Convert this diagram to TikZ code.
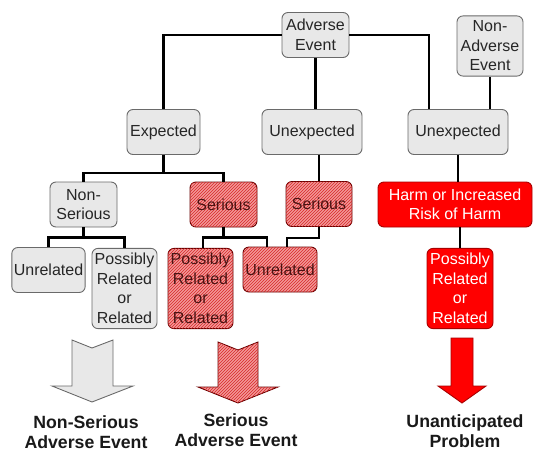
\documentclass[tikz,border=0pt]{standalone}
\usepackage{fontspec}
\setmainfont{Liberation Sans}
\usepackage{xcolor}
\usepackage{tikz}
\usetikzlibrary{patterns}

\definecolor{boxgrey}{HTML}{E8E8E8}
\definecolor{edgegrey}{HTML}{6A6A6A}
\definecolor{hatchpink}{HTML}{F39898}
\definecolor{hatchred}{HTML}{D82828}
\definecolor{hatchtext}{HTML}{4A1212}
\definecolor{darkred}{HTML}{A80000}

\begin{document}
\begin{tikzpicture}[x=1pt,y=-1pt,
        box/.style={draw=edgegrey, line width=0.9pt, rounded corners=6pt, align=center,
            inner xsep=2pt, inner ysep=5pt, minimum height=45pt,
            font=\fontsize{16}{19.5}\selectfont, text=black!85},
        greybox/.style={box, fill=boxgrey},
        hatchbox/.style={box, draw=darkred!60!black, fill=hatchpink, text=hatchtext,
            postaction={pattern=north east lines, pattern color=hatchred}},
        redbox/.style={box, draw=darkred, fill=red, text=white},
        link/.style={line width=2.6pt, black},
        result/.style={align=center, font=\fontsize{17.7}{20}\selectfont\bfseries, text=black!90}]
        \useasboundingbox (0,0) rectangle (536,451);

        % top row
        \node[greybox, minimum width=67pt] (AE) at (315.5,35) {Adverse\\Event};
        \node[greybox, minimum width=66pt] (NAE) at (490,46) {Non-\\Adverse\\Event};

        % expectedness
        \node[greybox, minimum width=73pt] (Exp) at (163.5,132) {Expected};
        \node[greybox, minimum width=100pt] (Unexp_2) at (312,132) {Unexpected};
        \node[greybox, minimum width=100pt] (Unexp_3) at (458,132) {Unexpected};

        % seriousness
        \node[greybox, minimum width=67pt] (NS) at (83.5,204.5) {Non-\\Serious};
        \node[hatchbox, minimum width=67pt] (Ser_1) at (223.5,204.5) {Serious};
        \node[hatchbox, minimum width=66pt] (Ser_2) at (319,204) {Serious};
        \node[redbox, minimum width=154pt] (Harm) at (455,204.5) {Harm or Increased\\Risk of Harm};

        % relatedness
        \node[greybox, minimum width=73pt] (Unrel_1) at (48.5,270) {Unrelated};
        \node[greybox, minimum width=65pt] (Pos_1) at (124.5,288.5) {Possibly\\Related\\or\\Related};
        \node[hatchbox, minimum width=65pt] (Pos_2) at (200.5,288.5) {Possibly\\Related\\or\\Related};
        \node[hatchbox, minimum width=74pt] (Unrel_2) at (280,269.5) {Unrelated};
        \node[redbox, minimum width=66pt] (Pos_3) at (460,288.5) {Possibly\\Related\\or\\Related};

        % outcomes
        \node[result] (NSAE) at (86,432) {Non-Serious\\Adverse Event};
        \node[result] (SAE) at (236,430) {Serious\\Adverse Event};
        \node[result] (UP) at (465,431) {Unanticipated\\Problem};

        % block arrows
        \draw[edgegrey, fill=boxgrey, line width=0.9pt] (72,340) -- (92,348) -- (113,340) -- (113,386)
            -- (133,386) -- (92,402) -- (52,386) -- (72,386) -- cycle;
        \draw[darkred!60!black, fill=hatchpink, line width=0.9pt,
            postaction={pattern=north east lines, pattern color=hatchred}]
            (218,342) -- (238,350) -- (258,342) -- (258,387) -- (278,387) -- (238,403)
            -- (198,387) -- (218,387) -- cycle;
        \draw[darkred, fill=red, line width=0.9pt] (451,338) -- (473,338) -- (473,386) -- (486,386)
            -- (462,403) -- (438,386) -- (451,386) -- cycle;

        % connectors
        \draw[link] (AE.west) -| (Exp.north);
        \draw[link] (AE.east) -| ([xshift=-29pt]Unexp_3.north);
        \draw[link] (AE.south) -- (AE.south |- Unexp_2.north);
        \draw[link] (NAE.south) -- (NAE.south |- Unexp_3.north);

        \draw[link] (Exp.south) -- ++(0,18) -| (NS.north);
        \draw[link] (Exp.south) ++(0,18) -| (Ser_1.north);
        \draw[link] (Ser_2.north |- Unexp_2.south) -- (Ser_2.north);
        \draw[link] (Unexp_3.south) -- (Unexp_3.south |- Harm.north);

        \draw[link] (NS.south) -- ++(0,10) -| (Unrel_1.north);
        \draw[link] (NS.south) ++(0,10) -| (Pos_1.north);
        \draw[link] (Ser_1.south) -- ++(0,10) -| ([xshift=2.5pt]Pos_2.north);
        \draw[link] (Ser_1.south) ++(0,10) -| ([xshift=-13pt]Unrel_2.north);
        \draw[link] (Ser_2.south) -- ++(0,11) -| ([xshift=7pt]Unrel_2.north);
        \draw[link] (Pos_3.north |- Harm.south) -- (Pos_3.north);
    \end{tikzpicture}
\end{document}
